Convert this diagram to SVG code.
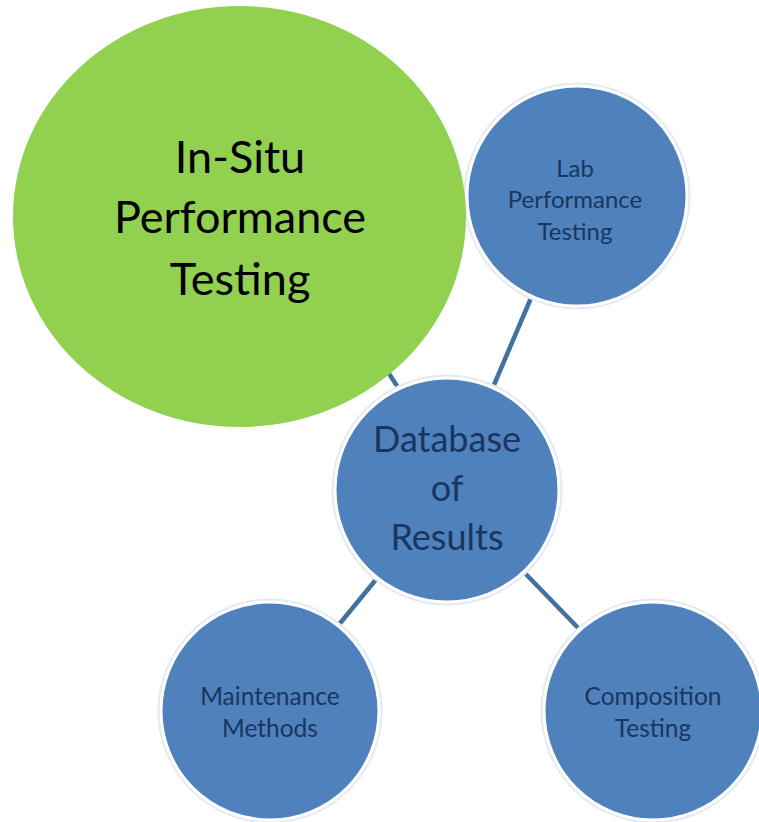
<svg xmlns="http://www.w3.org/2000/svg" width="759" height="822" viewBox="0 0 759 822">
<style>
.conn{stroke:#41719C;stroke-width:4.5;stroke-linecap:butt;fill:none}
.blue{fill:#4F81BD;stroke:#FFFFFF;stroke-width:3}
.halo{fill:none;stroke:#E3EAF3;stroke-width:7}
.green{fill:#92D050}
.bt{font-family:Lato,"Open Sans",sans-serif;fill:#1A355E;text-anchor:middle}
.gt{font-family:Lato,"Open Sans",sans-serif;fill:#000000;text-anchor:middle}
</style>
<rect width="759" height="822" fill="#FFFFFF"/>
<g id="connectors">
<line class="conn" x1="384" y1="366" x2="401" y2="392"/>
<line class="conn" x1="531" y1="298" x2="491" y2="392"/>
<line class="conn" x1="383" y1="571" x2="337" y2="627"/>
<line class="conn" x1="519" y1="567" x2="583" y2="633"/>
</g>
<g id="lab">
<circle class="halo" cx="577" cy="196" r="110"/>
<circle class="blue" cx="577" cy="196" r="110"/>
<text class="bt" font-size="24"><tspan x="575" y="177">Lab</tspan><tspan x="575" y="208">Performance</tspan><tspan x="575" y="240">Testing</tspan></text>
</g>
<g id="insitu">
<ellipse class="green" cx="239.5" cy="216.5" rx="226.5" ry="210.5"/>
<text class="gt" font-size="45"><tspan x="240" y="173">In-Situ</tspan><tspan x="240" y="233">Performance</tspan><tspan x="240" y="295">Testing</tspan></text>
</g>
<g id="database">
<circle class="halo" cx="447" cy="490" r="112"/>
<circle class="blue" cx="447" cy="490" r="112"/>
<text class="bt" font-size="36"><tspan x="447" y="452">Database</tspan><tspan x="447" y="501">of</tspan><tspan x="447" y="550">Results</tspan></text>
</g>
<g id="maintenance">
<circle class="halo" cx="270" cy="711" r="109"/>
<circle class="blue" cx="270" cy="711" r="109"/>
<text class="bt" font-size="24.5"><tspan x="270" y="705">Maintenance</tspan><tspan x="270" y="737">Methods</tspan></text>
</g>
<g id="composition">
<circle class="halo" cx="653" cy="711" r="109"/>
<circle class="blue" cx="653" cy="711" r="109"/>
<text class="bt" font-size="24.5"><tspan x="653" y="705">Composition</tspan><tspan x="653" y="737">Testing</tspan></text>
</g>
</svg>
